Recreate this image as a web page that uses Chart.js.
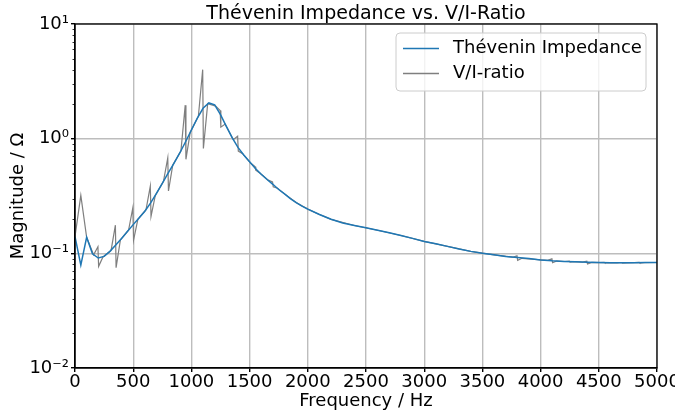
<!DOCTYPE html>
<html lang="en">
<head>
    <meta charset="UTF-8">
    <title>Thévenin Impedance vs. V/I-Ratio</title>
    <script src="https://cdn.jsdelivr.net/npm/chart.js"></script>
    <style>
        body {
            margin: 0;
            background: #fff;
        }
        canvas {
            display: block;
        }
    </style>
</head>
<body>
    <canvas id="chart" width="675" height="413"></canvas>

    <script>
        // Thévenin impedance magnitude (blue)
        const theveninFreq = [0, 50, 100, 150, 200, 250, 300, 350, 400, 450, 500, 550, 600, 650, 700, 750, 800, 850, 900, 950,
            1000, 1050, 1100, 1150, 1200, 1250, 1300, 1350, 1400, 1450, 1500, 1550, 1600, 1650, 1700, 1750, 1800, 1850, 1900, 1950,
            2000, 2100, 2200, 2300, 2400, 2500, 2600, 2700, 2800, 2900, 3000, 3100, 3200, 3300, 3400, 3500, 3600, 3700, 3800, 3900,
            4000, 4100, 4200, 4300, 4400, 4500, 4600, 4700, 4800, 4900, 5000];
        const theveninMag = [0.14, 0.079, 0.138, 0.099, 0.091, 0.094, 0.104, 0.118, 0.135, 0.155, 0.178, 0.203, 0.233, 0.275, 0.334, 0.408, 0.50, 0.61, 0.75, 0.94,
            1.19, 1.50, 1.84, 2.05, 1.97, 1.62, 1.28, 1.02, 0.84, 0.72, 0.63, 0.55, 0.49, 0.44, 0.40, 0.36, 0.33, 0.30, 0.277, 0.258,
            0.243, 0.218, 0.198, 0.184, 0.175, 0.167, 0.159, 0.151, 0.143, 0.135, 0.127, 0.121, 0.115, 0.109, 0.104, 0.100, 0.097, 0.094, 0.092, 0.090,
            0.0875, 0.086, 0.085, 0.0843, 0.0835, 0.083, 0.0827, 0.0827, 0.0828, 0.083, 0.0832];

        // measured V/I ratio (gray)
        const ratioFreq = [0, 50, 100, 160, 197, 203, 240, 310, 347, 353, 390, 460, 497, 503, 540, 610, 647, 653, 690,
            760, 797, 803, 840, 910, 947, 953, 990, 1060, 1097, 1103, 1140, 1210, 1247, 1253, 1290, 1360, 1397, 1403, 1440,
            1510, 1547, 1553, 1590, 1660, 1697, 1703, 1740, 1800, 1900, 2000, 2100, 2200, 2400, 2600, 2800, 3000, 3200, 3400, 3600,
            3760, 3797, 3803, 3840, 4060, 4097, 4103, 4140, 4210, 4247, 4253, 4290, 4360, 4397, 4403, 4440,
            4510, 4547, 4553, 4590, 4660, 4697, 4703, 4740, 4810, 4847, 4853, 4890, 5000];
        const ratioMag = [0.14, 0.32, 0.138, 0.097, 0.114, 0.077, 0.093, 0.106, 0.176, 0.075, 0.131, 0.159, 0.25, 0.13, 0.198, 0.24, 0.385, 0.21, 0.32,
            0.425, 0.68, 0.35, 0.59, 0.78, 1.96, 0.66, 1.14, 1.57, 4.0, 0.82, 2.02, 1.92, 1.76, 1.26, 1.34, 0.98, 1.05, 0.78, 0.74,
            0.61, 0.57, 0.53, 0.50, 0.435, 0.42, 0.38, 0.37, 0.33, 0.277, 0.243, 0.218, 0.198, 0.175, 0.159, 0.143, 0.127, 0.115, 0.104, 0.097,
            0.0925, 0.095, 0.087, 0.0905, 0.0868, 0.0895, 0.083, 0.0857, 0.0849, 0.0855, 0.0838, 0.0845, 0.0838, 0.0855, 0.0808, 0.0833,
            0.083, 0.0835, 0.0824, 0.0829, 0.0827, 0.0832, 0.0822, 0.0827, 0.0829, 0.0834, 0.0824, 0.083, 0.0832];

        const xTicks = [0, 500, 1000, 1500, 2000, 2500, 3000, 3500, 4000, 4500, 5000];
        const yTickLabels = {'-2': '10⁻²', '-1': '10⁻¹', '0': '10⁰', '1': '10¹'};
        const seriesNames = ['Thévenin Impedance', 'V/I-ratio'];
        const seriesColors = ['#1f77b4', '#7f7f7f'];

        const FONT = 'DejaVu Sans';
        const GRID = '#bdbdbd';

        function isDecade(v) {
            const l = Math.log10(v);
            return Math.abs(l - Math.round(l)) < 1e-6;
        }

        function toPoints(xs, ys) {
            return xs.map((x, i) => ({x: x, y: ys[i]}));
        }

        // spines, minor ticks, title and legend drawn the matplotlib way
        const extras = {
            id: 'extras',
            afterDraw(chart) {
                const ctx = chart.ctx;
                const a = chart.chartArea;
                const y = chart.scales.y;
                ctx.save();

                // minor log ticks on left spine
                ctx.strokeStyle = '#000';
                ctx.lineWidth = 0.8;
                for (let d = -2; d < 1; d++) {
                    for (let m = 2; m <= 9; m++) {
                        const py = Math.round(y.getPixelForValue(m * Math.pow(10, d))) + 0.5;
                        ctx.beginPath();
                        ctx.moveTo(a.left - 2.5, py);
                        ctx.lineTo(a.left, py);
                        ctx.stroke();
                    }
                }

                // frame
                ctx.lineWidth = 1.3;
                ctx.strokeRect(a.left, a.top, a.right - a.left, a.bottom - a.top);

                // title
                ctx.fillStyle = '#000';
                ctx.font = '19px "' + FONT + '"';
                ctx.textAlign = 'center';
                ctx.textBaseline = 'alphabetic';
                ctx.fillText('Thévenin Impedance vs. V/I-Ratio', (a.left + a.right) / 2, 19);

                // legend
                const bx = 396, by = 33, bw = 250, bh = 58;
                ctx.beginPath();
                ctx.roundRect(bx, by, bw, bh, 4);
                ctx.fillStyle = 'rgba(255,255,255,0.8)';
                ctx.fill();
                ctx.strokeStyle = '#cccccc';
                ctx.lineWidth = 1;
                ctx.stroke();
                ctx.font = '18px "' + FONT + '"';
                ctx.textAlign = 'left';
                ctx.textBaseline = 'middle';
                seriesNames.forEach((name, i) => {
                    const ly = 48.5 + i * 25;
                    ctx.strokeStyle = seriesColors[i];
                    ctx.lineWidth = 1.3;
                    ctx.beginPath();
                    ctx.moveTo(403, ly);
                    ctx.lineTo(439, ly);
                    ctx.stroke();
                    ctx.fillStyle = '#000';
                    ctx.fillText(name, 453, ly);
                });
                ctx.restore();
            }
        };

        new Chart(document.getElementById('chart'), {
            type: 'line',
            data: {
                datasets: [
                    {
                        label: seriesNames[0],
                        data: toPoints(theveninFreq, theveninMag),
                        borderColor: seriesColors[0],
                        borderWidth: 1.5,
                        pointRadius: 0,
                        tension: 0,
                        fill: false
                    },
                    {
                        label: seriesNames[1],
                        data: toPoints(ratioFreq, ratioMag),
                        borderColor: seriesColors[1],
                        borderWidth: 1.2,
                        pointRadius: 0,
                        tension: 0,
                        fill: false
                    }
                ]
            },
            options: {
                responsive: false,
                animation: false,
                layout: {padding: {top: 24, right: 18, left: 0, bottom: 0}},
                plugins: {
                    legend: {display: false},
                    title: {display: false},
                    tooltip: {enabled: false}
                },
                scales: {
                    x: {
                        type: 'linear',
                        min: 0,
                        max: 5000,
                        afterBuildTicks: scale => {
                            scale.ticks = xTicks.map(v => ({value: v}));
                        },
                        afterFit: scale => {
                            scale.height = 45;
                            scale.paddingLeft = 0;
                            scale.paddingRight = 0;
                        },
                        ticks: {
                            color: '#000',
                            font: {family: FONT, size: 18},
                            padding: 0,
                            maxRotation: 0,
                            callback: v => String(v)
                        },
                        grid: {
                            color: GRID,
                            lineWidth: 1.4,
                            tickColor: '#000',
                            tickLength: 4
                        },
                        border: {color: '#000', width: 1.3},
                        title: {
                            display: true,
                            text: 'Frequency / Hz',
                            color: '#000',
                            font: {family: FONT, size: 18},
                            padding: {top: 0, bottom: 1}
                        }
                    },
                    y: {
                        type: 'logarithmic',
                        min: 0.01,
                        max: 10,
                        afterFit: scale => {
                            scale.width = 75;
                            scale.paddingTop = 0;
                            scale.paddingBottom = 0;
                        },
                        ticks: {
                            autoSkip: false,
                            color: '#000',
                            font: {family: FONT, size: 18},
                            padding: 2,
                            callback: v => isDecade(v) ? yTickLabels[String(Math.round(Math.log10(v)))] : ''
                        },
                        grid: {
                            color: c => isDecade(c.tick.value) ? GRID : 'rgba(0,0,0,0)',
                            tickColor: c => isDecade(c.tick.value) ? '#000' : 'rgba(0,0,0,0)',
                            lineWidth: 1.4,
                            tickLength: 4
                        },
                        border: {color: '#000', width: 1.3},
                        title: {
                            display: true,
                            text: 'Magnitude / Ω',
                            color: '#000',
                            font: {family: FONT, size: 18},
                            padding: {top: 8, bottom: 0}
                        }
                    }
                }
            },
            plugins: [extras]
        });
    </script>
</body>
</html>
